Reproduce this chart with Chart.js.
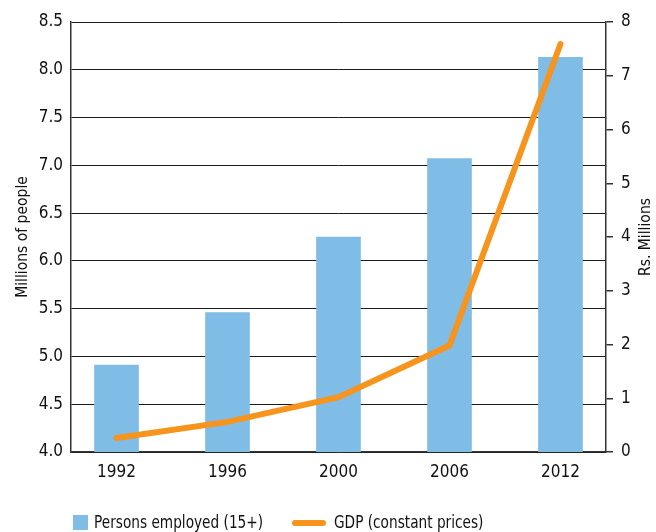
<!DOCTYPE html>
<html>
<head>
<meta charset="utf-8">
<script src="https://cdn.jsdelivr.net/npm/chart.js@4.4.1/dist/chart.umd.min.js"></script>
<style>
    body { margin: 0; background: #fff; }
    #wrap { position: relative; width: 656px; height: 532px; }
    .legend { position: absolute; top: 511px; height: 22px; font-family: 'DejaVu Sans Condensed', 'Liberation Sans', sans-serif; font-size: 18px; color: #111; line-height: 22px; white-space: nowrap; transform: scaleX(0.845); transform-origin: left center; }
    .swatch-bar { position: absolute; left: 73px; top: 515px; width: 15px; height: 15px; background: #7fbde6; }
    .swatch-line { position: absolute; left: 292px; top: 520px; width: 34px; height: 6px; border-radius: 3px; background: #f7941d; }
</style>
</head>
<body>
<div id="wrap">
    <canvas id="chart" width="656" height="532"></canvas>
    <div class="swatch-bar"></div>
    <div class="legend" style="left: 94px;">Persons employed (15+)</div>
    <div class="swatch-line"></div>
    <div class="legend" style="left: 334px;">GDP (constant prices)</div>
</div>
<script>
const years = ['1992', '1996', '2000', '2006', '2012'];
const employed = [4.91, 5.46, 6.25, 7.07, 8.13];   // millions of people
const gdp = [0.26, 0.56, 1.02, 1.98, 7.59];        // Rs. millions
const leftTicks = [4.0, 4.5, 5.0, 5.5, 6.0, 6.5, 7.0, 7.5, 8.0, 8.5];
const rightTicks = [0, 1, 2, 3, 4, 5, 6, 7, 8];

const FONT = "'DejaVu Sans Condensed', 'Liberation Sans', sans-serif";
Chart.defaults.font.family = FONT;
Chart.defaults.font.size = 17;
Chart.defaults.color = '#111';

// right axis title reads bottom-to-top, so draw it ourselves
const rightTitle = {
    id: 'rightTitle',
    afterDraw(chart) {
        const ctx = chart.ctx;
        ctx.save();
        ctx.translate(646, 237);
        ctx.rotate(-Math.PI / 2);
        ctx.font = '15.5px ' + FONT;
        ctx.fillStyle = '#111';
        ctx.textAlign = 'center';
        ctx.textBaseline = 'middle';
        ctx.fillText('Rs. Millions', 0, 0);
        ctx.restore();
    }
};

new Chart(document.getElementById('chart'), {
    type: 'bar',
    data: {
        datasets: [
            {
                type: 'line',
                label: 'GDP (constant prices)',
                data: gdp.map((v, i) => ({ x: i, y: v })),
                yAxisID: 'y1',
                borderColor: '#f7941d',
                borderWidth: 6,
                borderCapStyle: 'round',
                borderJoinStyle: 'miter',
                pointRadius: 0,
                tension: 0,
                order: 0
            },
            {
                label: 'Persons employed (15+)',
                data: employed.map((v, i) => ({ x: i, y: v })),
                yAxisID: 'y',
                backgroundColor: '#7fbde6',
                barThickness: 44,
                order: 1
            }
        ]
    },
    options: {
        responsive: false,
        animation: false,
        layout: { padding: { top: 22, bottom: 0, left: 0, right: 0 } },
        plugins: {
            legend: { display: false },
            tooltip: { enabled: false }
        },
        scales: {
            x: {
                type: 'linear',
                offset: false,
                min: -0.41,
                max: 4.41,
                afterBuildTicks: scale => { scale.ticks = years.map((_, i) => ({ value: i })); },
                afterFit: scale => { scale.height = 80; },
                grid: { display: false, drawTicks: false, offset: false },
                border: { display: true, color: '#333', width: 1.5 },
                ticks: {
                    padding: 10,
                    callback: v => years[v]
                }
            },
            y: {
                position: 'left',
                min: 4.0,
                max: 8.5,
                afterBuildTicks: scale => { scale.ticks = leftTicks.map(v => ({ value: v })); },
                afterFit: scale => { scale.width = 71; },
                grid: { color: '#1a1a1a', lineWidth: 1, drawTicks: false },
                border: { display: true, color: '#333', width: 1.5 },
                ticks: {
                    padding: 8,
                    callback: v => v.toFixed(1)
                },
                title: {
                    display: true,
                    text: 'Millions of people',
                    font: { size: 15.5 },
                    padding: { top: 14, bottom: 0 }
                }
            },
            y1: {
                position: 'right',
                min: 0,
                max: 8,
                afterBuildTicks: scale => { scale.ticks = rightTicks.map(v => ({ value: v })); },
                afterFit: scale => { scale.width = 50; },
                grid: { drawOnChartArea: false, drawTicks: true, tickLength: 7, color: '#333', lineWidth: 1.5 },
                border: { display: true, color: '#333', width: 1.5 },
                ticks: { padding: 8 }
            }
        }
    },
    plugins: [rightTitle]
});
</script>
</body>
</html>
